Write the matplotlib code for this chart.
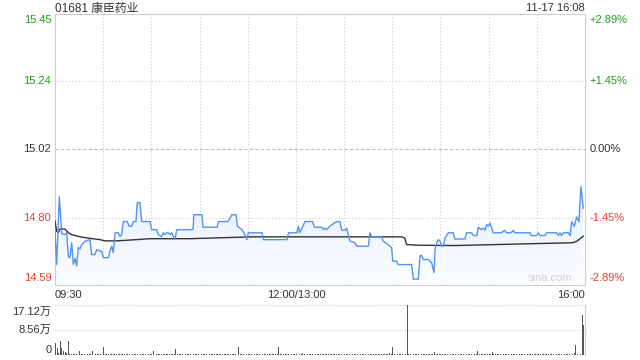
import numpy as np
import matplotlib
matplotlib.use('Agg')
import matplotlib.pyplot as plt
import matplotlib.transforms as mtransforms

plt.rcParams['font.family'] = ['Liberation Sans', 'Noto Sans CJK SC', 'DejaVu Sans']

# price line: trading minutes after 09:30 (lunch break removed), price
price_t = [0, 1.0, 2.7, 4.2, 6.2, 7.3, 8.3, 9.3, 10.4, 11.4, 12.5, 13.5, 14.5, 15.6, 16.6,
           18.7, 21.8, 22.8, 24.9, 26.0, 28.0, 29.1, 30.1, 33.2, 34.2, 35.3, 36.3, 37.4,
           39.4, 40.5, 41.5, 42.5, 45.0, 46.1, 47.8, 48.8, 50.4, 51.2, 52.9, 54.0, 59.2,
           60.2, 63.3, 64.3, 66.4, 67.4, 68.5, 69.5, 70.5, 71.6, 72.7, 74.7, 75.8, 85.9,
           86.5, 91.5, 92.1, 100.9, 101.8, 107.7, 110.2, 112.7, 113.6, 116.4, 118.3, 119.5,
           120.3, 128.9, 129.7, 144.5, 145.4, 150.7, 151.5, 152.5, 155.7, 160.3, 161.6,
           166.2, 167.1, 168.1, 169.2, 171.2, 174.3, 176.2, 177.5, 178.5, 180.6, 181.6,
           183.7, 186.8, 187.9, 195.1, 196.1, 197.2, 203.4, 204.4, 207.5, 209.6, 210.3,
           212.7, 213.7, 222.1, 223.1, 226.2, 227.3, 228.3, 229.3, 232.4, 234.5, 236.0,
           236.6, 237.6, 238.7, 239.7, 240.8, 241.8, 242.8, 244.9, 248.0, 249.0, 255.3,
           256.3, 259.4, 260.5, 262.6, 263.6, 265.2, 266.7, 267.7, 268.8, 269.8, 270.8,
           271.9, 272.9, 278.1, 279.8, 281.2, 283.9, 285.4, 286.4, 295.8, 296.4, 299.9,
           300.9, 302.0, 305.1, 306.1, 312.4, 313.3, 314.4, 315.5, 316.5, 319.6, 320.7,
           321.7, 323.3, 324.8, 326.2, 327.5, 328.9]
price_v = [14.762, 14.65, 14.868, 14.75, 14.746, 14.752, 14.677, 14.672, 14.72, 14.65, 14.67,
           14.645, 14.705, 14.70, 14.714, 14.725, 14.73, 14.682, 14.682, 14.698, 14.693,
           14.693, 14.672, 14.672, 14.693, 14.709, 14.688, 14.752, 14.752, 14.74, 14.746,
           14.788, 14.788, 14.773, 14.773, 14.788, 14.788, 14.849, 14.849, 14.788, 14.788,
           14.762, 14.762, 14.746, 14.74, 14.752, 14.746, 14.752, 14.752, 14.746, 14.752,
           14.73, 14.762, 14.762, 14.81, 14.81, 14.77, 14.77, 14.788, 14.788, 14.81, 14.81,
           14.773, 14.762, 14.746, 14.73, 14.752, 14.752, 14.73, 14.73, 14.752, 14.752,
           14.773, 14.752, 14.788, 14.788, 14.77, 14.77, 14.762, 14.767, 14.762, 14.773,
           14.785, 14.788, 14.788, 14.76, 14.76, 14.767, 14.725, 14.72, 14.709, 14.709,
           14.752, 14.739, 14.739, 14.725, 14.714, 14.704, 14.661, 14.661, 14.65, 14.65,
           14.603, 14.603, 14.679, 14.679, 14.666, 14.666, 14.656, 14.624, 14.698, 14.72,
           14.73, 14.725, 14.709, 14.709, 14.735, 14.752, 14.752, 14.732, 14.732, 14.752,
           14.752, 14.743, 14.743, 14.77, 14.762, 14.767, 14.76, 14.778, 14.773, 14.783,
           14.767, 14.752, 14.752, 14.76, 14.752, 14.752, 14.76, 14.752, 14.752, 14.743,
           14.743, 14.752, 14.743, 14.743, 14.752, 14.752, 14.743, 14.752, 14.743, 14.752,
           14.752, 14.743, 14.788, 14.773, 14.803, 14.788, 14.90, 14.831]

# average price line
avg_t = [0, 1.0, 2.1, 3.1, 6.2, 8.3, 10.4, 15.6, 21.8, 28.0, 31.1, 38.4, 50.9, 59.2, 84.0,
         123.6, 215.8, 217.8, 218.9, 227.3, 249.0, 322.2, 325.0, 328.9]
avg_v = [14.79, 14.757, 14.753, 14.764, 14.764, 14.752, 14.746, 14.739, 14.734, 14.73,
         14.726, 14.726, 14.73, 14.733, 14.733, 14.739, 14.739, 14.735, 14.714, 14.712,
         14.711, 14.72, 14.725, 14.741]

# volume per trading minute, thousand shares
volume_k = [41, 23, 8, 49, 23, 12, 10, 6, 49, 4,
            3, 2, 4, 2, 3, 14, 3, 2, 4, 3,
            2, 5, 3, 12, 2, 3, 4, 2, 3, 5,
            26, 3, 2, 4, 3, 2, 3, 5, 2, 3,
            4, 2, 3, 2, 5, 3, 2, 4, 3, 2,
            3, 4, 2, 3, 5, 2, 3, 2, 4, 3,
            2, 12, 3, 2, 4, 3, 2, 3, 5, 2,
            3, 2, 4, 3, 2, 21, 3, 2, 4, 2,
            3, 5, 2, 3, 2, 4, 3, 2, 3, 2,
            4, 2, 3, 5, 2, 3, 2, 4, 3, 2,
            3, 2, 4, 2, 3, 5, 2, 3, 2, 4,
            3, 2, 3, 4, 27, 2, 3, 2, 4, 3,
            2, 3, 5, 2, 3, 2, 4, 3, 2, 3,
            4, 2, 3, 2, 5, 3, 2, 4, 3, 27,
            3, 2, 4, 3, 2, 5, 3, 2, 4, 3,
            2, 3, 4, 2, 6, 3, 2, 4, 3, 2,
            3, 4, 2, 3, 5, 2, 3, 4, 2, 3,
            2, 4, 3, 2, 5, 3, 2, 4, 3, 14,
            3, 2, 4, 5, 14, 3, 2, 4, 3, 2,
            3, 5, 2, 4, 3, 2, 3, 4, 2, 3,
            4, 2, 3, 5, 2, 3, 4, 2, 6, 3,
            27, 2, 3, 4, 2, 3, 5, 2, 3, 171,
            3, 2, 4, 3, 5, 2, 3, 12, 2, 4,
            3, 2, 4, 3, 2, 5, 10, 3, 2, 4,
            3, 2, 4, 3, 2, 3, 5, 2, 3, 4,
            2, 3, 4, 2, 3, 5, 2, 3, 4, 2,
            3, 2, 4, 12, 3, 2, 4, 3, 2, 5,
            3, 2, 10, 3, 2, 4, 3, 2, 3, 4,
            2, 3, 5, 2, 3, 4, 2, 3, 2, 4,
            3, 2, 4, 16, 3, 2, 4, 3, 2, 3,
            4, 2, 3, 5, 2, 3, 4, 2, 3, 2,
            4, 3, 2, 5, 3, 2, 4, 3, 2, 5,
            3, 21, 4, 6, 35, 4, 8, 5, 137, 102]

prev_close = 15.02
y_ticks = [15.45, 15.24, 15.02, 14.80, 14.59]
pct_labels = ['+2.89%', '+1.45%', '0.00%', '-1.45%', '-2.89%']
x_labels = ['09:30', '12:00/13:00', '16:00']
x_label_pos = [0, 150, 330]
vol_ticks = [171200, 85600, 0]
vol_labels = ['17.12万', '8.56万', '0']

GREEN = '#1b9e1b'
RED = '#ec3b2f'
DARK = '#333333'
GRID = '#cccccc'

fig = plt.figure(figsize=(6.4, 3.6), dpi=100)
ax = fig.add_axes([55/640, 1 - 284.5/360, 530/640, 270.5/360])
axv = fig.add_axes([55/640, 1 - 355/360, 530/640, 50/360])

ymin, ymax = 14.586, 15.454
ax.set_xlim(0, 330)
ax.set_ylim(ymin, ymax)

# grid
for gx in range(30, 330, 30):
    ax.axvline(gx, color=GRID, lw=0.8, ls=(0, (1, 2)), zorder=1)
for gy in [15.24, 14.80]:
    ax.axhline(gy, color=GRID, lw=0.8, ls=(0, (1, 2)), zorder=1)
ax.axhline(prev_close, color='#bbbbbb', lw=0.8, ls=(0, (3, 2)), zorder=1)

# gradient fill under price line
poly = ax.fill_between(price_t, price_v, ymin, color='none', lw=0)
grad = np.linspace(0, 1, 100).reshape(-1, 1)
top_c = np.array([0.90, 0.94, 0.99])
bot_c = np.array([0.985, 0.99, 1.0])
img = top_c + (bot_c - top_c) * grad
im = ax.imshow(img[:, None, :].repeat(2, axis=1), extent=[0, 330, ymin, max(price_v)],
               aspect='auto', origin='upper', zorder=2)
im.set_clip_path(poly.get_paths()[0], transform=ax.transData)

ax.plot(price_t, price_v, color='#5593ef', lw=1.0, zorder=4)
ax.plot(avg_t, avg_v, color=DARK, lw=1.0, zorder=3)

for s in ax.spines.values():
    s.set_color(GRID)
ax.set_xticks([])
ax.set_yticks([])

ax.text(0.977, 0.004, 'sina.com', transform=ax.transAxes, ha='right', va='bottom',
        color='#d0d0d0', fontsize=8)

# left/right price labels
tl = mtransforms.blended_transform_factory(ax.transAxes, ax.transData)
for i, (v, p) in enumerate(zip(y_ticks, pct_labels)):
    if v > prev_close + 0.001:
        c = GREEN
    elif v < prev_close - 0.001:
        c = RED
    else:
        c = DARK
    va = 'top' if i == 0 else ('bottom' if i == len(y_ticks) - 1 else 'center')
    ax.text(-0.007, v, f'{v:.2f}', transform=tl, ha='right', va=va, color=c, fontsize=8)
    ax.text(1.009, v, p, transform=tl, ha='left', va=va, color=c, fontsize=8)

tx = mtransforms.blended_transform_factory(ax.transData, ax.transAxes)
for lab, pos, ha in zip(x_labels, x_label_pos, ['left', 'center', 'right']):
    ax.text(pos, -0.022, lab, transform=tx, ha=ha, va='top', color=DARK, fontsize=8)

ax.text(0, 1.0075, '01681 康臣药业', transform=ax.transAxes, ha='left', va='baseline',
        color=DARK, fontsize=8.5)
ax.text(1, 1.011, '11-17 16:08', transform=ax.transAxes, ha='right', va='baseline',
        color=DARK, fontsize=8)

# volume panel
vol = np.array(volume_k) * 1000
axv.bar(np.arange(len(vol)) + 0.3, vol, width=0.55, color='#555555', zorder=3)
axv.set_xlim(0, 330)
axv.set_ylim(0, 171200)
axv.axhline(171200, color=GRID, lw=0.8, ls=(0, (1, 1.5)), zorder=1)
axv.axhline(85600, color=GRID, lw=0.8, ls=(0, (1, 1.5)), zorder=1)
for k in ['top', 'left', 'bottom']:
    axv.spines[k].set_visible(False)
axv.spines['right'].set_color(GRID)
axv.set_xticks([])
axv.set_yticks([])
vva = ['top', 'center', 'bottom']
tv = mtransforms.blended_transform_factory(axv.transAxes, axv.transData)
for v, lab, va in zip(vol_ticks, vol_labels, vva):
    yy = v - 8000 if va == 'top' else v
    axv.text(-0.007, yy, lab, transform=tv, ha='right', va=va, color=DARK, fontsize=8)

fig.savefig('out.png', dpi=100)
